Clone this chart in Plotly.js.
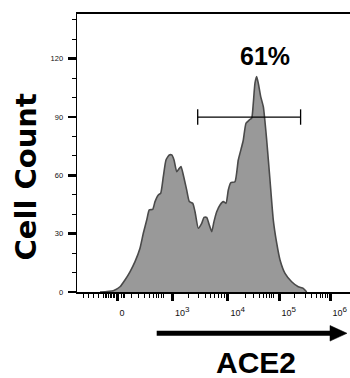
<!DOCTYPE html>
<html>
<head>
<meta charset="utf-8">
<script src="https://cdn.plot.ly/plotly-3.0.1.min.js"></script>
<style>html,body{margin:0;padding:0;background:#fff;}#chart{width:350px;height:378px;}</style>
</head>
<body>
<div id="chart"></div>
<script>
// Histogram outline (x in display units of the biexponential ACE2 axis, y = cell count)
const histX = [-0.38, -0.128, 0, 0.095, 0.190, 0.286, 0.381, 0.444, 0.509, 0.558, 0.623, 0.667, 0.730, 0.775, 0.825, 0.876, 0.939, 0.985, 1.029, 1.080, 1.130, 1.162, 1.206, 1.270, 1.320, 1.385, 1.429, 1.491, 1.556, 1.600, 1.651, 1.701, 1.747, 1.790, 1.842, 1.905, 1.968, 2.019, 2.063, 2.109, 2.190, 2.253, 2.318, 2.349, 2.400, 2.463, 2.509, 2.539, 2.571, 2.604, 2.634, 2.680, 2.730, 2.794, 2.857, 2.920, 2.985, 3.048, 3.143, 3.270, 3.396, 3.491, 3.556];
const histY = [0, 0.7, 2.7, 6.2, 10.4, 15.6, 22.5, 30.2, 37.0, 42.2, 42.5, 46.5, 49.9, 50.8, 59.3, 67.9, 70.5, 70.5, 67.9, 61.9, 63.6, 64.5, 60.2, 52.5, 46.5, 45.6, 41.3, 32.8, 35.3, 38.4, 38.4, 34.5, 31.0, 36.2, 41.3, 44.8, 46.5, 45.6, 52.5, 56.2, 56.7, 67.9, 74.7, 78.2, 86.8, 88.5, 89.4, 97.1, 107.4, 110.8, 107.4, 100.5, 95.3, 78.2, 57.6, 37.0, 25.1, 16.5, 9.6, 5.3, 2.7, 1.9, 0];

// Gate
const gateX = [1.48, 3.44];
const gateY = [90, 90];
const gateLabel = '61%';

// Axis ticks
const xTickVals = [-0.057, 1, 2.057, 3.029, 4.0];
const xTickText = ['0', '10<sup><span style="font-size:8px">3</span></sup>', '10<sup><span style="font-size:8px">4</span></sup>', '10<sup><span style="font-size:8px">5</span></sup>', '10<sup><span style="font-size:8px">6</span></sup>'];
const xMinorVals = [-0.699, -0.604, -0.509, -0.413,
  -0.305, -0.276, -0.248, -0.219, -0.190, -0.162, -0.133, -0.105, -0.076, 0.038, 0.067, 0.095,
  0.223, 0.349, 0.476, 0.571, 0.634, 0.686, 0.739, 0.790, 0.838,
  1.314, 1.495, 1.619, 1.724, 1.800, 1.867, 1.924, 1.981,
  2.381, 2.539, 2.653, 2.730, 2.794, 2.844, 2.890, 2.933,
  3.333, 3.524, 3.651, 3.747, 3.810, 3.861, 3.905, 3.949];
const yTickVals = [0, 30, 60, 90, 120];
const xTitle = 'ACE2';
const yTitle = 'Cell Count';

// layout helpers (pixel -> paper)
const L = 77, T = 14, W = 273, H = 278;
const px = v => (v - L) / W;
const py = v => (T + H - v) / H;

const traces = [
  {
    x: histX, y: histY, type: 'scatter', mode: 'lines',
    fill: 'tozeroy', fillcolor: '#999999',
    line: {color: '#4a4a4a', width: 1.6, shape: 'spline', smoothing: 0.5},
    hoverinfo: 'skip', showlegend: false
  },
  {
    x: gateX, y: gateY, type: 'scatter', mode: 'lines+markers',
    line: {color: '#000', width: 1.3},
    marker: {symbol: 'line-ns', size: 11, line: {color: '#000', width: 1.3}},
    hoverinfo: 'skip', showlegend: false
  }
];

const layout = {
  width: 350, height: 378,
  margin: {l: L, r: 0, t: T, b: 378 - T - H, pad: 0},
  paper_bgcolor: '#fff', plot_bgcolor: '#fff',
  font: {family: 'Liberation Sans, Arial, sans-serif', color: '#000'},
  xaxis: {
    range: [-0.819, 4.381], showgrid: false, zeroline: false,
    showline: true, linecolor: '#000', linewidth: 1.8, mirror: true,
    tickmode: 'array', tickvals: xTickVals, ticktext: xTickText,
    ticks: 'outside', ticklen: 7, tickwidth: 3, tickcolor: '#000',
    ticklabelposition: 'outside right',
    ticklabelstandoff: 11,
    tickfont: {size: 9, color: '#111'},
    minor: {tickmode: 'array', tickvals: xMinorVals, ticks: 'outside', ticklen: 4, tickwidth: 1, tickcolor: '#000', showgrid: false},
    fixedrange: true
  },
  yaxis: {
    range: [0, 143], showgrid: false, zeroline: false,
    showline: true, linecolor: '#000', linewidth: 1.4, mirror: false,
    tickmode: 'array', tickvals: yTickVals,
    ticks: 'outside', ticklen: 8, tickwidth: 2.5, tickcolor: '#000',
    ticklabelstandoff: 3,
    tickfont: {size: 7.5, color: '#111'},
    minor: {dtick: 10, tick0: 0, ticks: 'outside', ticklen: 4, tickwidth: 1, tickcolor: '#000', showgrid: false},
    fixedrange: true
  },
  annotations: [
    {x: 2.756, y: 121.5, xref: 'x', yref: 'y', text: '<b>' + gateLabel + '</b>', showarrow: false,
     font: {size: 25, family: 'Liberation Sans, Arial, sans-serif', color: '#000'}, xanchor: 'center', yanchor: 'middle'},
    {x: px(256), y: py(362.5), xref: 'paper', yref: 'paper', text: '<b>' + xTitle + '</b>', showarrow: false,
     font: {size: 30, family: 'Liberation Sans, Arial, sans-serif', color: '#000'}, xanchor: 'center', yanchor: 'middle'},
    {x: px(25), y: py(177.5), xref: 'paper', yref: 'paper', text: '<b>' + yTitle + '</b>', showarrow: false, textangle: -90,
     font: {size: 29, family: 'DejaVu Sans, sans-serif', color: '#000'}, xanchor: 'center', yanchor: 'middle'}
  ],
  shapes: [
    {type: 'line', xref: 'paper', yref: 'paper', x0: px(156.7), x1: px(333), y0: py(333.3), y1: py(333.3),
     line: {color: '#000', width: 5}},
    {type: 'path', xref: 'paper', yref: 'paper',
     path: 'M ' + px(330) + ' ' + py(325.5) + ' L ' + px(347) + ' ' + py(333.3) + ' L ' + px(330) + ' ' + py(341.1) + ' Z',
     fillcolor: '#000', line: {color: '#000', width: 0.5}}
  ]
};

Plotly.newPlot('chart', traces, layout, {displayModeBar: false, staticPlot: true});
</script>
</body>
</html>
